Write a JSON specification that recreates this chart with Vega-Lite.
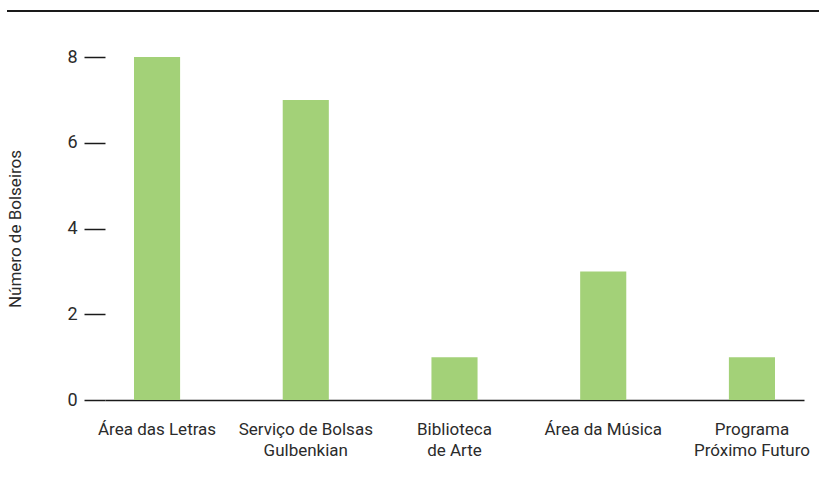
{
  "$schema": "https://vega.github.io/schema/vega-lite/v6.json",
  "autosize": {"type": "none"},
  "width": 699,
  "height": 343,
  "padding": {"left": 105, "top": 57, "right": 15, "bottom": 87},
  "config": {
    "view": {"stroke": null},
    "font": "Roboto",
    "axis": {"labelFont": "Roboto", "titleFont": "Roboto", "labelColor": "#2b2b2b", "titleColor": "#2b2b2b"}
  },
  "data": {
    "values": [
      {"area": "Área das Letras", "bolseiros": 8},
      {"area": "Serviço de Bolsas\nGulbenkian", "bolseiros": 7},
      {"area": "Biblioteca\nde Arte", "bolseiros": 1},
      {"area": "Área da Música", "bolseiros": 3},
      {"area": "Programa\nPróximo Futuro", "bolseiros": 1}
    ]
  },
  "layer": [
    {
      "mark": {"type": "bar", "color": "#a3d178"},
      "encoding": {
        "x": {
          "field": "area", "type": "nominal", "sort": null,
          "scale": {"paddingInner": 0.69, "paddingOuter": 0.195},
          "axis": {
            "title": null, "labelAngle": 0, "ticks": false, "labelPadding": 21,
            "labelFontSize": 17, "labelLineHeight": 21,
            "labelExpr": "split(datum.label, '\\n')",
            "domainColor": "#1a1a1a", "domainWidth": 1.5
          }
        },
        "y": {
          "field": "bolseiros", "type": "quantitative",
          "scale": {"domain": [0, 8], "nice": false},
          "axis": {
            "title": "Número de Bolseiros", "values": [0, 2, 4, 6, 8],
            "domain": false, "grid": false, "tickSize": 21, "tickColor": "#1a1a1a", "tickWidth": 1.5,
            "labelPadding": 7, "labelFontSize": 18, "titleFontSize": 17, "titleFontWeight": "normal",
            "titlePadding": 42
          }
        }
      }
    },
    {
      "mark": {"type": "rule", "color": "#1a1a1a", "strokeWidth": 2, "clip": false},
      "encoding": {
        "y": {"datum": 9.07, "type": "quantitative"},
        "x": {"datum": -0.14, "type": "quantitative", "scale": {"domain": [0, 1]}, "axis": null},
        "x2": {"datum": 1.022}
      }
    }
  ],
  "resolve": {"scale": {"x": "independent"}}
}
